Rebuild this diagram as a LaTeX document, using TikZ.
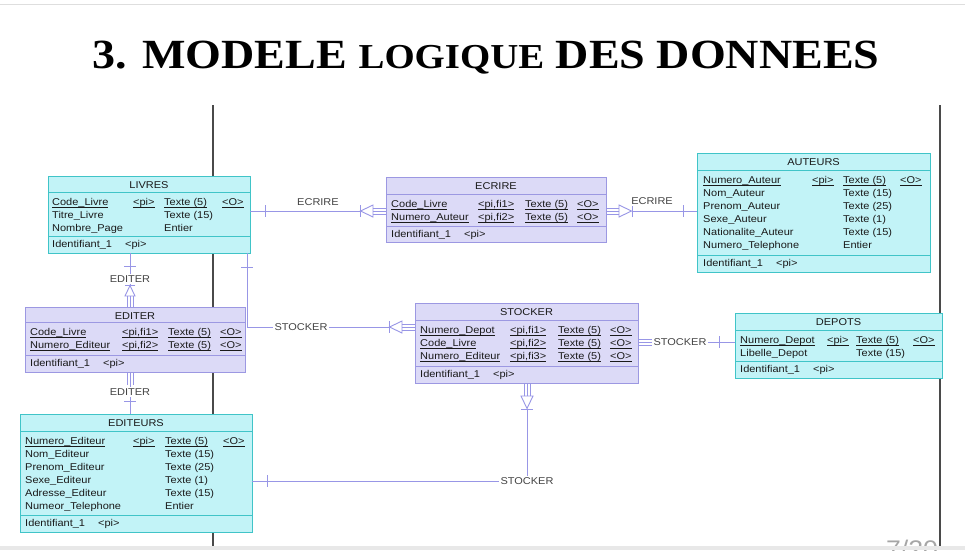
\documentclass[tikz,border=0pt]{standalone}
\usepackage{fontspec}
\usetikzlibrary{calc}
\newfontfamily\tf[FakeStretch=1.11]{Liberation Sans}
\newfontfamily\ttlfont[FakeStretch=1.11]{Liberation Serif}
\definecolor{cyanfill}{HTML}{C2F3F7}
\definecolor{cyanline}{HTML}{40C4C8}
\definecolor{purpfill}{HTML}{DCDAF7}
\definecolor{purpline}{HTML}{9C98E2}
\definecolor{connc}{HTML}{9896E6}
\definecolor{txtc}{HTML}{1A1A1A}
\definecolor{lblc}{HTML}{444444}
\definecolor{vlinec}{HTML}{4A4A4A}
\newcount\cellno
\newcommand\ulx[1]{\setbox0=\hbox{#1}\rlap{\vrule height -1.1pt depth 1.75pt width \wd0}\box0}
\newcommand\cellat[3]{\global\advance\cellno by 1 \node[cell] (c\the\cellno) at (#1,#2) {#3};}
% row with underline: y, name, pi, type, O
\newcommand\rowu[5]{\cellat{\ca}{#1}{\ulx{#2}}\cellat{\cb}{#1}{\ulx{#3}}\cellat{\cc}{#1}{\ulx{#4}}\cellat{\cd}{#1}{\ulx{#5}}}
\newcommand\rowp[3]{\cellat{\ca}{#1}{#2}\cellat{\cc}{#1}{#3}}
\newcommand\foot[1]{\cellat{\ca}{#1}{Identifiant\_1}\cellat{\ca+73}{#1}{<pi>}}
% name, style, x1, y1, x2, y2, sep1, sep2, title
\newcommand\mktable[9]{%
  \node[#2, minimum width={(#5-#3)*1pt}, minimum height={(#6-#4)*1pt}] (#1) at (#3,#4) {};
  \draw[#2sep] (#1.west |- 0,#7) -- (#1.east |- 0,#7);
  \draw[#2sep] (#1.west |- 0,#8) -- (#1.east |- 0,#8);
  \node[hdr] (#1-title) at ({(#3+#5)/2},{#4+12}) {#9};
}
\begin{document}
\begin{tikzpicture}[x=1pt,y=-1pt,
  cyantbl/.style={draw=cyanline, fill=cyanfill, line width=1pt, inner sep=0pt, outer sep=0pt, anchor=north west},
  purptbl/.style={draw=purpline, fill=purpfill, line width=1pt, inner sep=0pt, outer sep=0pt, anchor=north west},
  cyantblsep/.style={draw=cyanline, line width=1pt},
  purptblsep/.style={draw=purpline, line width=1pt},
  cell/.style={anchor=base west, inner sep=0pt, text=txtc, font=\tf\fontsize{9.9}{12}\selectfont},
  hdr/.style={anchor=base, inner sep=0pt, text=txtc, font=\tf\fontsize{9.9}{12}\selectfont},
  conn/.style={draw=connc, line width=0.9pt},
  lbl/.style={fill=white, inner sep=1.2pt, text=lblc, font=\tf\fontsize{9.9}{12}\selectfont},
  fktri/.store in=\fktri, fktri=13,
  fktrip/.store in=\fktrip, fktrip=13,
  fkhw/.store in=\fkhw, fkhw=6,
  fkmark/.pic={
    \draw[conn] (0,-\fkhw) -- (0,\fkhw);
    \draw[conn] (0.5,0) -- (\fktri,\fkhw) -- (\fktri,-\fkhw) -- cycle;
    \draw[conn] (\fktri,-3) -- ++(\fktrip,0) (\fktri,0) -- ++(\fktrip,0) (\fktri,3) -- ++(\fktrip,0);
  },
  tickmark/.pic={\draw[conn] (0,-6) -- (0,6);}
]
\useasboundingbox (0,0) rectangle (965,550);
\clip (0,0) rectangle (965,550);
\fill[white] (0,0) rectangle (965,550);
\draw[black!13, line width=1pt] (0,4) -- (965,4);
% title
\node[anchor=base, inner sep=0pt, text=black, font=\ttlfont\bfseries\fontsize{41.5}{42}\selectfont] (title) at (486,68)
  {3. MODELE {\fontsize{35}{36}\selectfont LOGIQUE} DES DONNEES};
% background vertical lines
\coordinate (v1a) at (213,105); \coordinate (v1b) at (213,546);
\coordinate (v2a) at (940,105); \coordinate (v2b) at (940,546);
\draw[vlinec, line width=1.6pt] (v1a) -- (v1b);
\draw[vlinec, line width=1.6pt] (v2a) -- (v2b);
% page number
\node[anchor=base, inner sep=0pt, text=black!35, font=\tf\fontsize{24}{24}\selectfont] (pageno) at (912,557) {7/20};
\fill[black!9] (0,546) rectangle (965,550);

% tables
\mktable{livres}{cyantbl}{48}{176}{250}{253}{192}{236}{LIVRES}
\mktable{ecrire}{purptbl}{386}{177}{606}{242}{194}{226}{ECRIRE}
\mktable{auteurs}{cyantbl}{697}{153}{930}{272}{170}{255}{AUTEURS}
\mktable{editer}{purptbl}{25}{307}{245}{372}{322}{355}{EDITER}
\mktable{stocker}{purptbl}{415}{303}{638}{383}{320}{366}{STOCKER}
\mktable{depots}{cyantbl}{735}{313}{942}{378}{330}{361}{DEPOTS}
\mktable{editeurs}{cyantbl}{20}{414}{252}{532}{431}{515}{EDITEURS}

% LIVRES
\def\ca{52}\def\cb{133}\def\cc{164}\def\cd{222}
\rowu{205.5}{Code\_Livre}{<pi>}{Texte (5)}{<O>}
\rowp{218.5}{Titre\_Livre}{Texte (15)}
\rowp{231.5}{Nombre\_Page}{Entier}
\foot{247.5}
% ECRIRE
\def\ca{391}\def\cb{478}\def\cc{525}\def\cd{577}
\rowu{207.5}{Code\_Livre}{<pi,fi1>}{Texte (5)}{<O>}
\rowu{220.5}{Numero\_Auteur}{<pi,fi2>}{Texte (5)}{<O>}
\foot{237.5}
% AUTEURS
\def\ca{703}\def\cb{812}\def\cc{843}\def\cd{900}
\rowu{183.5}{Numero\_Auteur}{<pi>}{Texte (5)}{<O>}
\rowp{196.5}{Nom\_Auteur}{Texte (15)}
\rowp{209.5}{Prenom\_Auteur}{Texte (25)}
\rowp{222.5}{Sexe\_Auteur}{Texte (1)}
\rowp{235.5}{Nationalite\_Auteur}{Texte (15)}
\rowp{248.5}{Numero\_Telephone}{Entier}
\foot{266.5}
% EDITER
\def\ca{30}\def\cb{122}\def\cc{168}\def\cd{220}
\rowu{335.5}{Code\_Livre}{<pi,fi1>}{Texte (5)}{<O>}
\rowu{348.5}{Numero\_Editeur}{<pi,fi2>}{Texte (5)}{<O>}
\foot{366.5}
% STOCKER
\def\ca{420}\def\cb{510}\def\cc{558}\def\cd{610}
\rowu{333.5}{Numero\_Depot}{<pi,fi1>}{Texte (5)}{<O>}
\rowu{346.5}{Code\_Livre}{<pi,fi2>}{Texte (5)}{<O>}
\rowu{359.5}{Numero\_Editeur}{<pi,fi3>}{Texte (5)}{<O>}
\foot{377.5}
% DEPOTS
\def\ca{740}\def\cb{827}\def\cc{856}\def\cd{913}
\rowu{343.5}{Numero\_Depot}{<pi>}{Texte (5)}{<O>}
\rowp{356.5}{Libelle\_Depot}{Texte (15)}
\foot{372.5}
% EDITEURS
\def\ca{25}\def\cb{133}\def\cc{165}\def\cd{223}
\rowu{444.5}{Numero\_Editeur}{<pi>}{Texte (5)}{<O>}
\rowp{457.5}{Nom\_Editeur}{Texte (15)}
\rowp{470.5}{Prenom\_Editeur}{Texte (25)}
\rowp{483.5}{Sexe\_Editeur}{Texte (1)}
\rowp{496.5}{Adresse\_Editeur}{Texte (15)}
\rowp{509.5}{Numeor\_Telephone}{Entier}
\foot{526.5}

% connectors
% 1 LIVRES - ECRIRE
\coordinate (a1) at (360,211);
\draw[conn] (livres.east |- a1) -- (a1);
\pic at (a1) {fkmark};
\pic at ($(livres.east |- a1)+(15,0)$) {tickmark};
\node[lbl] (l1) at (318,202) {ECRIRE};
% 2 ECRIRE - AUTEURS
\coordinate (a2) at (632,211);
\draw[conn] (a2) -- (auteurs.west |- a2);
\pic[rotate=180] at (a2) {fkmark};
\pic at ($(auteurs.west |- a2)+(-14,0)$) {tickmark};
\node[lbl] (l2) at (652,201) {ECRIRE};
% 3 LIVRES - EDITER
\coordinate (a3) at (130,285);
\draw[conn] (livres.south -| a3) -- (a3);
\pic[rotate=-90, fktri=11, fktrip=11, fkhw=5] at (a3) {fkmark};
\pic[rotate=90] at ($(livres.south -| a3)+(0,13)$) {tickmark};
\node[lbl] (l3) at (130,279) {EDITER};
% 4 EDITER - EDITEURS
\coordinate (a4) at (130,385);
\draw[conn] (a4) -- (editeurs.north -| a4);
\draw[conn] ([xshift=-3pt]editer.south -| a4) -- ([xshift=-3pt]a4)
            (editer.south -| a4) -- (a4)
            ([xshift=3pt]editer.south -| a4) -- ([xshift=3pt]a4);
\pic[rotate=90] at ($(editeurs.north -| a4)+(0,-13)$) {tickmark};
\node[lbl] (l4) at (130,392) {EDITER};
% 5 LIVRES - STOCKER
\coordinate (b5) at (247,327);
\coordinate (a5) at (389,327);
\draw[conn] (livres.south -| b5) -- (b5) -- (a5);
\pic at (a5) {fkmark};
\pic[rotate=90] at ($(livres.south -| b5)+(0,14)$) {tickmark};
\node[lbl] (l5) at (301,327) {STOCKER};
% 6 STOCKER - DEPOTS
\coordinate (a6) at (652,342);
\draw[conn] (a6) -- (depots.west |- a6);
\draw[conn] ([yshift=3pt]stocker.east |- a6) -- ([yshift=3pt]a6)
            (stocker.east |- a6) -- (a6)
            ([yshift=-3pt]stocker.east |- a6) -- ([yshift=-3pt]a6);
\pic at ($(depots.west |- a6)+(-16,0)$) {tickmark};
\node[lbl] (l6) at (680,342) {STOCKER};
% 7 STOCKER - EDITEURS
\coordinate (a7) at (527,409);
\coordinate (b7) at (527,481);
\draw[conn] (a7) -- (b7) -- (editeurs.east |- b7);
\pic[rotate=90] at (a7) {fkmark};
\pic at ($(editeurs.east |- b7)+(15,0)$) {tickmark};
\node[lbl] (l7) at (527,481) {STOCKER};
\end{tikzpicture}
\end{document}
